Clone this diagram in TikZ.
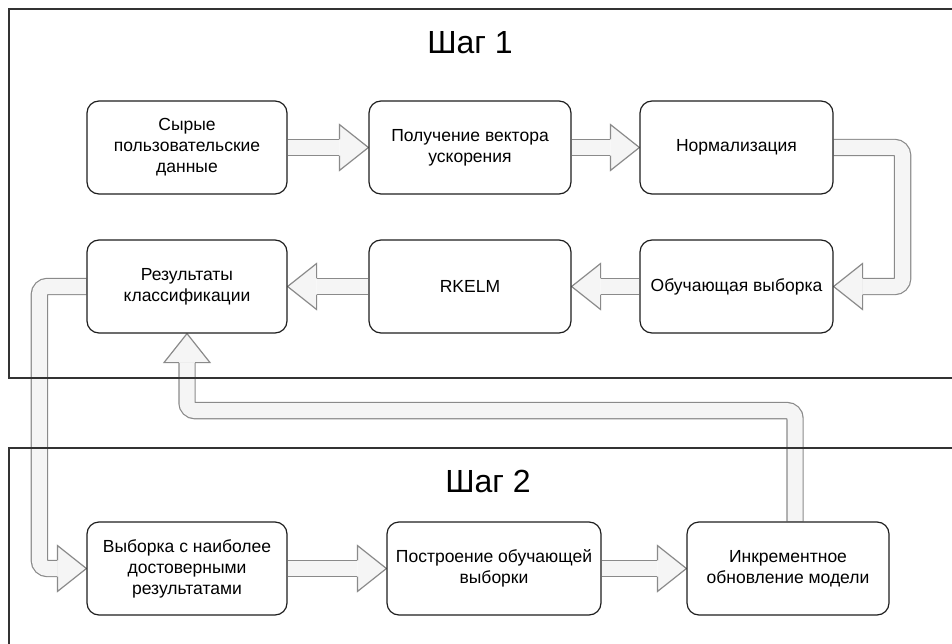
\documentclass[tikz,border=0pt]{standalone}
\usepackage{fontspec}
\setmainfont{Liberation Sans}
\usetikzlibrary{calc}
\definecolor{arrfill}{HTML}{F5F5F5}
\definecolor{arrline}{HTML}{8A8A8A}
\definecolor{boxline}{HTML}{1E1E1E}
\definecolor{frameline}{HTML}{333333}
\pgfdeclarelayer{bg}
\pgfsetlayers{bg,main}
\newcommand\headR[1]{\filldraw[head] ($(#1)+(-29,-8.1)$) -- ++(0,-14.9) -- (#1) -- ($(#1)+(-29,23)$) -- ++(0,-14.9);}
\newcommand\headL[1]{\filldraw[head] ($(#1)+(29,-8.1)$) -- ++(0,-14.9) -- (#1) -- ($(#1)+(29,23)$) -- ++(0,-14.9);}
\newcommand\headU[1]{\filldraw[head] ($(#1)+(-8.1,29)$) -- ++(-14.9,0) -- (#1) -- ($(#1)+(23,29)$) -- ++(-14.9,0);}
\begin{document}
\begin{tikzpicture}[x=1pt,y=-1pt,
 box/.style={draw=boxline, fill=white, line width=1.2pt, rounded corners=12pt, minimum height=93pt, align=center, inner sep=0pt, font=\fontsize{17.5}{21}\selectfont},
 shaft/.style={draw=arrline, line width=1.2pt, double=arrfill, double distance=15pt},
 head/.style={draw=arrline, fill=arrfill, line width=1.2pt, line join=miter},
 frame/.style={draw=frameline, line width=1.5pt},
 title/.style={font=\fontsize{32}{38}\selectfont, inner sep=0pt}]
\useasboundingbox (0,0) rectangle (952,644);
% frames
\draw[frame] (956,9) -- (9,9) -- (9,378) -- (956,378);
\draw[frame] (956,448) -- (9,448) -- (9,650);
\node[title] (t1) at (470,43) {Шаг 1};
\node[title] (t2) at (488,481) {Шаг 2};
% boxes
\node[box, minimum width=200pt] (b1) at (187,147.5) {Сырые\\пользовательские\\данные};
\node[box, minimum width=202pt] (b2) at (470,147.5) {Получение вектора\\ускорения};
\node[box, minimum width=193pt] (b3) at (736.5,147.5) {Нормализация};
\node[box, minimum width=200pt] (b4) at (187,286.5) {Результаты\\классификации};
\node[box, minimum width=202pt] (b5) at (470,286.5) {RKELM};
\node[box, minimum width=193pt] (b6) at (736.5,286.5) {Обучающая выборка};
\node[box, minimum width=200pt] (b7) at (187,568.5) {Выборка с наиболее\\достоверными\\результатами};
\node[box, minimum width=214pt] (b8) at (494,568.5) {Построение обучающей\\выборки};
\node[box, minimum width=202pt] (b9) at (788,568.5) {Инкрементное\\обновление модели};
\coordinate (a7s) at ($(b9.north)+(7,0)$);
% arrows
\begin{pgfonlayer}{bg}
\draw[shaft] (b1.east) -- ($(b2.west)+(-29,0)$);
\headR{b2.west}
\draw[shaft] (b2.east) -- ($(b3.west)+(-29,0)$);
\headR{b3.west}
\draw[shaft, rounded corners=8pt] (b3.east) -- ++(69,0) |- ($(b6.east)+(29,0)$);
\headL{b6.east}
\draw[shaft] (b6.west) -- ($(b5.east)+(29,0)$);
\headL{b5.east}
\draw[shaft] (b5.west) -- ($(b4.east)+(29,0)$);
\headL{b4.east}
\draw[shaft, rounded corners=8pt] (b4.west) -- ++(-47,0) |- ($(b7.west)+(-29,0)$);
\headR{b7.west}
\draw[shaft] (b7.east) -- ($(b8.west)+(-29,0)$);
\headR{b8.west}
\draw[shaft] (b8.east) -- ($(b9.west)+(-29,0)$);
\headR{b9.west}
\draw[shaft, rounded corners=8pt] (a7s) |- ($(b4.south)+(0,77)$) -- ($(b4.south)+(0,29)$);
\headU{b4.south}
\end{pgfonlayer}
\end{tikzpicture}
\end{document}
